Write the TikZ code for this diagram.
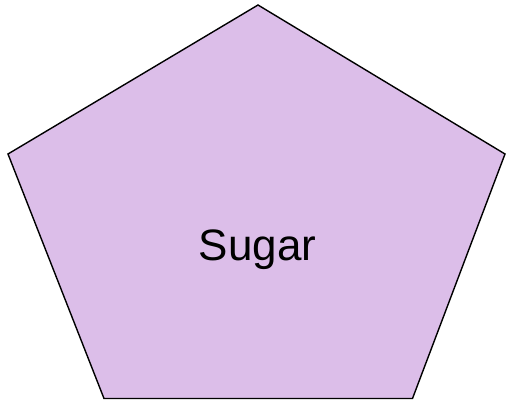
\documentclass[tikz,border=0pt]{standalone}
\usepackage{fontspec}
\setmainfont{Liberation Sans}
\usepackage{xcolor}
\usepackage{tikz}
\usetikzlibrary{calc}
\definecolor{figLilac}{HTML}{DCBEE9}

\begin{document}
\begin{tikzpicture}[
  x=1pt, y=-1pt,
  every node/.style={font=\fontsize{44}{50}\selectfont},
  pentagon/.style={fill=figLilac, draw=black, line width=1.4pt, line join=miter},
]
\useasboundingbox (0,0) rectangle (506,404);

% === Corners ===
\coordinate (top) at (258, 5);
\coordinate (left) at (8, 154);
\coordinate (right) at (505, 154);
\coordinate (botleft) at (104, 398.5);
\coordinate (botright) at (412.5, 398.5);

% === Shape ===
\draw[pentagon] (top) -- (right) -- (botright) -- (botleft) -- (left) -- cycle;

% === Label ===
\node[anchor=base] (sugar) at (257.5, 260) {Sugar};

\end{tikzpicture}
\end{document}
